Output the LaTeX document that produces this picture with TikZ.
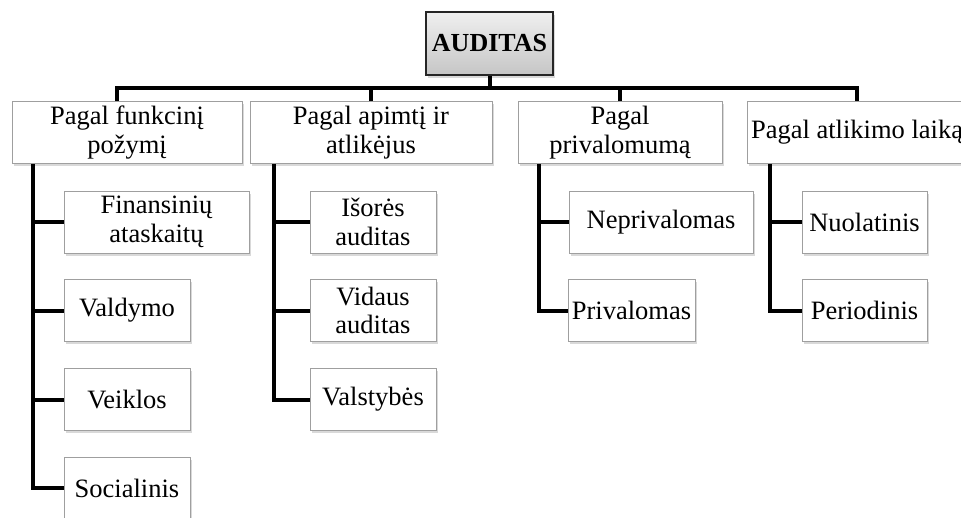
\documentclass[tikz,border=0pt]{standalone}
\usepackage{fontspec}
\setmainfont{Liberation Serif}
\usepackage{tikz}
\usetikzlibrary{calc, shadows, positioning}

\begin{document}
\begin{tikzpicture}[x=1pt, y=-1pt,
    font=\fontsize{26.5}{28.5}\selectfont,
    box/.style={draw=gray!75, line width=.8pt, fill=white, align=center, inner sep=1pt,
      minimum height=62pt,
      drop shadow={shadow xshift=1.5pt, shadow yshift=-2.5pt, opacity=.3, fill=gray}},
    rootbox/.style={box, draw=black!85, line width=1.2pt, top color=gray!12, bottom color=gray!45,
      font=\fontsize{26}{30}\selectfont\bfseries, minimum width=127pt, minimum height=63pt},
    link/.style={line width=4pt, line join=miter}]
    \useasboundingbox (0,0) rectangle (961,517);
    \clip (0,0) rectangle (961,517);
    % root
    \node[rootbox] (top) at (489.5, 43.5) {AUDITAS};
    % first level
    \node[box, minimum width=230pt] (h1) at (127, 132.5) {Pagal funkcinį\\požymį};
    \node[box, minimum width=242pt] (h2) at (371, 132.5) {Pagal apimtį ir\\atlikėjus};
    \node[box, minimum width=204pt] (h3) at (620, 132.5) {Pagal\\privalomumą};
    \node[box, minimum width=220pt] (h4) at (857, 132.5) {Pagal atlikimo laiką};
    % second level
    \node[box, minimum width=185pt] (fin) at (156.5, 222) {Finansinių\\ataskaitų};
    \node[box, minimum width=126pt] (val) at (127, 310.5) {Valdymo};
    \node[box, minimum width=126pt] (vei) at (127, 399.5) {Veiklos};
    \node[box, minimum width=126pt] (soc) at (127, 488) {Socialinis};
    \node[box, minimum width=126pt] (iso) at (373, 222) {Išorės\\auditas};
    \node[box, minimum width=126pt] (vid) at (373, 310.5) {Vidaus\\auditas};
    \node[box, minimum width=126pt] (vls) at (373, 399.5) {Valstybės};
    \node[box, minimum width=184pt] (nep) at (661, 222) {Neprivalomas};
    \node[box, minimum width=127pt] (pri) at (631.5, 310.5) {Privalomas};
    \node[box, minimum width=125pt] (nuo) at (864.5, 222) {Nuolatinis};
    \node[box, minimum width=125pt] (per) at (864.5, 310.5) {Periodinis};
    % bus
    \draw[link] (top.south) -- ++(0,14);
    \draw[link] ([xshift=-10pt]h1.north) -- ++(0,-13) -| (h4.north);
    \draw[link] (h2.north) -- ++(0,-13);
    \draw[link] (h3.north) -- ++(0,-13);
    % trunks
    \coordinate (t1) at ([xshift=21pt]h1.south west);
    \coordinate (t2) at ([xshift=24pt]h2.south west);
    \coordinate (t3) at ([xshift=21pt]h3.south west);
    \coordinate (t4) at ([xshift=23pt]h4.south west);
    \draw[link] (t1) |- (soc.west);
    \draw[link] (t2) |- (vls.west);
    \draw[link] (t3) |- (pri.west);
    \draw[link] (t4) |- (per.west);
    \foreach \child/\trunk in {fin/t1, val/t1, vei/t1, iso/t2, vid/t2, nep/t3, nuo/t4}{
      \draw[link] (\trunk |- \child.west) -- (\child.west);
    }
\end{tikzpicture}
\end{document}
